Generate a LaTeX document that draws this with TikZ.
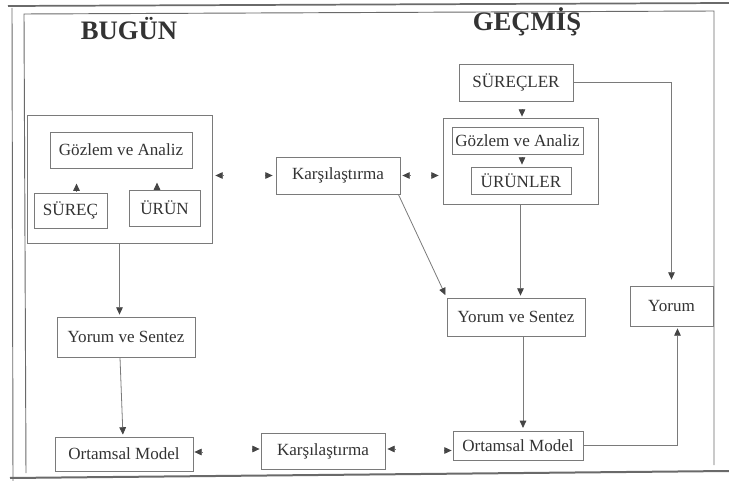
\documentclass[tikz,border=0pt]{standalone}
\usepackage{fontspec}
\setmainfont{Liberation Serif}
\usetikzlibrary{arrows.meta,calc}
\definecolor{txt}{HTML}{333333}
\definecolor{edge}{HTML}{7A7A7A}
\definecolor{tipc}{HTML}{454545}
\definecolor{frm}{HTML}{6A6A6A}
\tikzset{
  box/.style={draw=edge, line width=0.6pt, inner sep=0pt, text=txt, font=\fontsize{12.8}{14}\selectfont, anchor=center},
  grp/.style={draw=edge, line width=0.6pt, inner sep=0pt, anchor=center},
  title/.style={text=txt, font=\fontsize{20}{22}\selectfont\bfseries, anchor=base, inner sep=0pt},
  arr/.style={draw=edge, line width=0.6pt, -{Triangle[length=5.5pt,width=5pt,color=tipc]}},
  stub/.style={draw=edge, line width=0.6pt, -{Triangle[length=5.5pt,width=5pt,color=tipc]}},
}
\begin{document}
\begin{tikzpicture}[x=0.75pt,y=-0.75pt]
\useasboundingbox (0,0) rectangle (729,481);
% page frame
\draw[frm, line width=1.3pt] (8,6) -- (729,3);
\draw[frm, line width=1.5pt] (10,478) -- (729,471);
\draw[frm, line width=0.7pt] (12,8) -- (13,481);
\draw[frm, line width=0.7pt] (714,465) -- (714,11) -- (24,14) -- (26,473);
% titles
\node[title] (tL) at (129,40) {BUGÜN};
\node[title] (tR) at (527,31) {GEÇMİŞ};
% left side
\node[grp, minimum width=138.75pt, minimum height=96pt] (grpL) at (119.5,179) {};
\node[box, minimum width=106.5pt, minimum height=27pt] (gozL) at (121,150) {Gözlem ve Analiz};
\node[box, minimum width=54.75pt, minimum height=26.25pt] (surecL) at (70.5,210.5) {SÜREÇ};
\node[box, minimum width=53.25pt, minimum height=27pt] (urunL) at (164.5,208) {ÜRÜN};
\node[box, minimum width=103.5pt, minimum height=30pt] (yvsL) at (126,337) {Yorum ve Sentez};
\node[box, minimum width=103.5pt, minimum height=25.5pt] (ortL) at (124,454) {Ortamsal Model};
% middle
\node[box, minimum width=93pt, minimum height=27.75pt] (karsT) at (338,175.5) {Karşılaştırma};
\node[box, minimum width=93pt, minimum height=27pt] (karsB) at (323,451) {Karşılaştırma};
% right side
\node[box, minimum width=85.5pt, minimum height=27.75pt] (surecler) at (516,82.5) {SÜREÇLER};
\node[grp, minimum width=116.25pt, minimum height=64.5pt] (grpR) at (520.5,161) {};
\node[box, minimum width=98.25pt, minimum height=20.25pt] (gozR) at (517.5,140.5) {Gözlem ve Analiz};
\node[box, minimum width=75pt, minimum height=20.25pt] (urunler) at (521,180.5) {ÜRÜNLER};
\node[box, minimum width=103.5pt, minimum height=28.5pt] (yvsR) at (516,317) {Yorum ve Sentez};
\node[box, minimum width=62.25pt, minimum height=30pt] (yorum) at (671.5,306) {Yorum};
\node[box, minimum width=97.5pt, minimum height=21.75pt] (ortR) at (518,445.5) {Ortamsal Model};
% connectors
\draw[arr, shorten >=1.5pt] (grpL.south) -- (grpL.south |- yvsL.north);
\draw[arr, shorten >=1.5pt] ($(yvsL.south)+(-6,0)$) -- ($(ortL.north)+(-1,0)$);
\draw[arr, shorten >=1.5pt] (grpR.south) -- (grpR.south |- yvsR.north);
\draw[arr, shorten >=2pt] ($(karsT.south east)+(-2,0)$) -- (yvsR.north west);
\draw[arr, shorten >=2pt] ($(yvsR.south)+(7,0)$) -- ($(ortR.north)+(5,0)$);
\draw[arr, shorten >=4.5pt] (surecler.east) -| (yorum.north);
\draw[arr, shorten >=1.5pt] (ortR.east) -| ($(yorum.south)+(6,0)$);
% lone arrowheads
\draw[stub] ($(grpL.east |- karsT.west)+(10.5,0)$) -- ($(grpL.east |- karsT.west)+(3,0)$);
\draw[stub] ($(karsT.west)+(-10.5,0)$) -- ($(karsT.west)+(-3,0)$);
\draw[stub] ($(karsT.east)+(9.5,0)$) -- ($(karsT.east)+(2,0)$);
\draw[stub] ($(grpR.west |- karsT.east)+(-11.5,0)$) -- ($(grpR.west |- karsT.east)+(-4,0)$);
\draw[stub] ($(surecL.north)+(6,-1.5)$) -- ($(surecL.north)+(6,-9)$);
\draw[stub] ($(urunL.north)+(-7.5,0.5)$) -- ($(urunL.north)+(-7.5,-7)$);
\draw[stub] ($(grpR.north)+(1.5,-8.5)$) -- ($(grpR.north)+(1.5,-1)$);
\draw[stub] ($(urunler.north)+(1,-9.5)$) -- ($(urunler.north)+(1,-2)$);
\draw[stub] ($(ortL.east)+(8.5,-2)$) -- ($(ortL.east)+(1,-2)$);
\draw[stub] ($(karsB.west)+(-8.5,-2)$) -- ($(karsB.west)+(-1,-2)$);
\draw[stub] ($(karsB.east)+(9.5,-2)$) -- ($(karsB.east)+(2,-2)$);
\draw[stub] ($(ortR.west)+(-8.5,5)$) -- ($(ortR.west)+(-1,5)$);
\end{tikzpicture}
\end{document}
